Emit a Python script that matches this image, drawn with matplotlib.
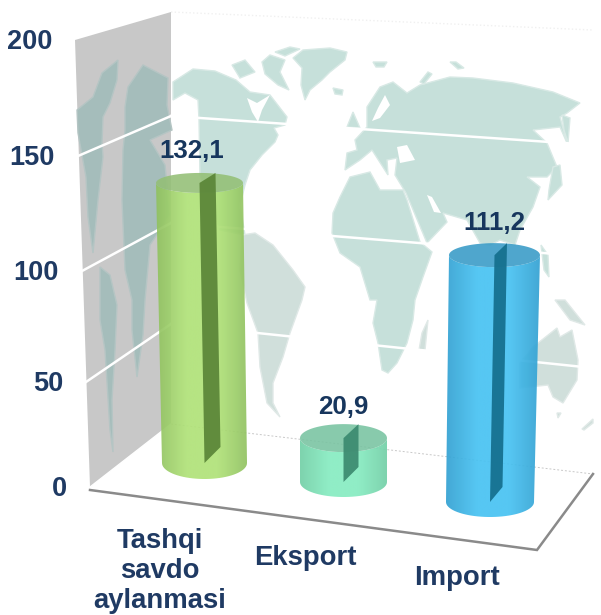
import numpy as np
import matplotlib
matplotlib.use('Agg')
import matplotlib.pyplot as plt
from matplotlib.colors import LinearSegmentedColormap
from matplotlib.patches import Polygon, PathPatch
from matplotlib.path import Path

plt.rcParams['font.family'] = ['Liberation Sans', 'DejaVu Sans']

# Data
categories = ['Tashqi\nsavdo\naylanmasi', 'Eksport', 'Import']
values = [132.1, 20.9, 111.2]
value_labels = ['132,1', '20,9', '111,2']
y_ticks = [0, 50, 100, 150, 200]

# Wall layout, one entry per tick
wall_front_x = [90, 86, 82, 78, 75]
wall_front_y = [487, 382, 271, 156, 40]
wall_back_y = [424, 324, 223, 116, 12]
wall_right_y = [474, 368, 257, 145, 30]
BACK_X = 171
RIGHT_X = 593

# Bar layout
base_x = [204.5, 343.5, 490]
base_y = [463, 482, 502]
base_rx = [42.5, 43.5, 44]
base_ry = [16, 15, 15]
top_shift = [-5, 0, 4.5]
top_rx = [43.5, 43.5, 45.5]
top_ry = [10, 14, 12]
unit_px = [2.12, 2.1, 2.22]
slab_dx = [16, 15, 12.5]
label_gap = [32, 31, 32]
cat_pos = [(160, 571), (305, 558), (457, 578)]
bar_cols = [('#8fc05f', '#b0e278', '#93bf75', '#5c8739'),
            ('#72cea6', '#86ecc1', '#78c3a1', '#3d8c71'),
            ('#319fd0', '#47c2f2', '#369ac6', '#15708f')]

# World map outlines, drawn on the back wall
map_back = [
    [(173, 82), (193, 69), (215, 71), (236, 80), (250, 92), (270, 95), (287, 117), (285, 125), (274, 128), (278, 135),
     (275, 142), (262, 155), (250, 170), (245, 185), (240, 205), (245, 235), (220, 230), (200, 175), (199, 120),
     (198, 100), (185, 93), (173, 100)],
    [(293, 58), (303, 50), (330, 48), (347, 52), (345, 60), (330, 72), (322, 80), (310, 90), (305, 100), (301, 85),
     (302, 68)],
    [(232, 65), (245, 60), (255, 72), (240, 78)],
    [(262, 62), (270, 55), (285, 60), (280, 72), (289, 90), (278, 85), (265, 74)],
    [(275, 52), (290, 47), (300, 49), (285, 56)],
    [(333, 88), (343, 90), (342, 95), (335, 94)],
    [(333, 213), (340, 197), (350, 177), (370, 172), (380, 190), (403, 190), (407, 200), (420, 242), (432, 252),
     (423, 277), (415, 300), (413, 320), (407, 343), (397, 363), (388, 373), (382, 370), (378, 343), (373, 323),
     (377, 300), (370, 300), (360, 267), (340, 253), (332, 233)],
    [(345, 170), (347, 153), (357, 150), (355, 140), (367, 127), (367, 107), (380, 87), (393, 82), (407, 93), (420, 85),
     (450, 77), (473, 78), (513, 83), (553, 92), (580, 103), (567, 113), (560, 117), (567, 143), (560, 127), (533, 130),
     (547, 143), (557, 167), (547, 177), (527, 177), (540, 187), (533, 207), (520, 230), (515, 245), (500, 240),
     (490, 245), (480, 243), (467, 220), (443, 213), (447, 222), (427, 243), (406, 193), (395, 175), (397, 158),
     (387, 160), (388, 175), (372, 150), (360, 160)],
    [(347, 127), (353, 112), (360, 128)],
    [(373, 62), (387, 62), (384, 67), (376, 67)],
    [(420, 82), (428, 72), (432, 74), (424, 84)],
    [(450, 62), (456, 62), (464, 68), (458, 69)],
    [(553, 167), (560, 165), (562, 185), (548, 200), (549, 190)],
    [(562, 115), (570, 118), (568, 143), (564, 130)],
    [(541, 245), (548, 255), (549, 277), (544, 270)],
]
map_south = [
    [(242, 235), (255, 233), (273, 245), (293, 270), (305, 287), (302, 300), (290, 333), (283, 357), (273, 383),
     (273, 403), (280, 417), (267, 403), (260, 367), (258, 333), (247, 303), (240, 270)],
    [(428, 320), (425, 350), (419, 350), (422, 333)],
    [(520, 363), (533, 347), (557, 328), (560, 337), (572, 330), (578, 360), (577, 380), (563, 403), (553, 397),
     (548, 385), (520, 388)],
    [(555, 300), (565, 300), (585, 325), (570, 320)],
    [(557, 413), (561, 413), (558, 418)],
    [(582, 429), (593, 419), (593, 423), (584, 430)],
]
map_holes = [
    [(247, 98), (257, 103), (270, 95), (262, 110), (258, 122), (252, 112)],
    [(385, 95), (390, 105), (380, 118), (372, 121), (378, 108)],
    [(397, 147), (407, 145), (415, 160), (400, 163)],
    [(427, 195), (432, 197), (441, 213), (434, 212)],
]
map_side = [
    [(77, 110), (93, 97), (102, 73), (118, 60), (117, 80), (110, 103), (103, 117), (102, 143), (103, 157), (98, 200),
     (93, 253), (88, 217), (86, 177), (78, 133)],
    [(125, 107), (128, 87), (143, 65), (168, 78), (167, 105), (172, 130), (150, 140), (165, 165), (170, 215),
     (150, 245), (145, 300), (143, 335), (137, 377), (132, 330), (132, 300), (125, 270), (122, 200), (123, 150),
     (125, 130)],
    [(100, 267), (110, 275), (117, 305), (115, 350), (112, 400), (113, 452), (110, 430), (105, 350), (100, 320)],
]

fig = plt.figure(figsize=(6.01, 6.15), dpi=100)
ax = fig.add_axes([0, 0, 1, 1])
ax.axis('off')


def half_ellipse(cx, cy, rx, ry, left_to_right=True):
    t = np.linspace(np.pi, 0, 40) if left_to_right else np.linspace(0, np.pi, 40)
    return np.column_stack([cx + rx * np.cos(t), cy + ry * np.sin(t)])


# Walls and floor
wall = [(wall_front_x[-1], wall_front_y[-1]), (BACK_X, wall_back_y[-1]), (BACK_X, wall_back_y[0]),
        (wall_front_x[0], wall_front_y[0])]
ax.add_patch(Polygon(wall, fc='#c8c8c8', ec='none', zorder=1))
for shape in map_side:
    ax.add_patch(Polygon(shape, fc='#a5bdbb', ec='#b5c5c4', lw=1, zorder=2))
for shape in map_back:
    ax.add_patch(Polygon(shape, fc='#c6e0da', ec='#d8e9e5', lw=1, zorder=2))
for shape in map_south:
    ax.add_patch(Polygon(shape, fc='#d0dfdb', ec='#e0e9e7', lw=1, zorder=2))
for shape in map_holes:
    ax.add_patch(Polygon(shape, fc='white', ec='none', zorder=2.5))

ax.plot([BACK_X, RIGHT_X], [wall_back_y[-1], wall_right_y[-1]], color='#f0f0f0', lw=1, ls=':', zorder=2)
for i, tick in enumerate(y_ticks):
    if i == 0:
        ax.plot([BACK_X, RIGHT_X], [wall_back_y[i], wall_right_y[i]], color='#c8c8c8', lw=0.7, ls=(0, (2, 2)), zorder=3)
        ax.plot([wall_front_x[i], BACK_X], [wall_front_y[i], wall_back_y[i]], color='white', lw=1, zorder=3)
    elif i < len(y_ticks) - 1:
        ax.plot([BACK_X, RIGHT_X], [wall_back_y[i], wall_right_y[i]], color='white', lw=1.8, zorder=3)
        ax.plot([wall_front_x[i], BACK_X], [wall_front_y[i], wall_back_y[i]], color='white', lw=1.8, zorder=3)
    ax.text(wall_front_x[i] - 23, wall_front_y[i] + 2, str(tick), ha='right', va='center', fontsize=19.5,
            fontweight='bold', color='#1f3a63', zorder=8)

# Floor edge
ax.plot([90, 537, RIGHT_X], [490, 550, wall_right_y[0]], color='#8a8a8a', lw=1.8, solid_joinstyle='miter', zorder=3)

# Cylinders
for i, val in enumerate(values):
    edge, mid, cap, dark = bar_cols[i]
    tx = base_x[i] + top_shift[i]
    ty = base_y[i] - val * unit_px[i]
    rx = max(base_rx[i], top_rx[i])

    # body with a side to side shading, clipped to the cylinder outline
    front_top = half_ellipse(tx, ty, top_rx[i], top_ry[i])
    front_base = half_ellipse(base_x[i], base_y[i], base_rx[i], base_ry[i], left_to_right=False)
    outline = np.vstack([front_top, front_base, front_top[:1]])
    cmap = LinearSegmentedColormap.from_list('body', [edge, mid, mid, edge])
    im = ax.imshow(np.linspace(0, 1, 128).reshape(1, -1), cmap=cmap, aspect='auto', alpha=0.92, zorder=4,
                   extent=[min(tx, base_x[i]) - rx - 1, max(tx, base_x[i]) + rx + 1, base_y[i] + base_ry[i] + 1, ty - top_ry[i] - 1])
    im.set_clip_path(PathPatch(Path(outline), transform=ax.transData))

    # top cap
    t = np.linspace(0, 2 * np.pi, 80)
    ax.add_patch(Polygon(np.column_stack([tx + top_rx[i] * np.cos(t), ty + top_ry[i] * np.sin(t)]),
                         fc=cap, ec='none', alpha=0.88, zorder=5))

    # dark inner slab
    slab = [(tx, ty), (tx + slab_dx[i], ty - top_ry[i]), (base_x[i] + slab_dx[i], base_y[i] - base_ry[i]),
            (base_x[i], base_y[i])]
    ax.add_patch(Polygon(slab, fc=dark, ec='none', alpha=0.94, zorder=6))

    ax.text(tx - (8 if i == 0 else 0), ty - label_gap[i], value_labels[i], ha='center', va='center', fontsize=18.6,
            fontweight='bold', color='#17365d', zorder=8)
    ax.text(cat_pos[i][0], cat_pos[i][1], categories[i], ha='center', va='center', fontsize=19.8, fontweight='bold',
            color='#1f3a63', linespacing=1.2, zorder=8)

ax.set_xlim(0, 601)
ax.set_ylim(615, 0)
fig.savefig('out.png', dpi=100)
